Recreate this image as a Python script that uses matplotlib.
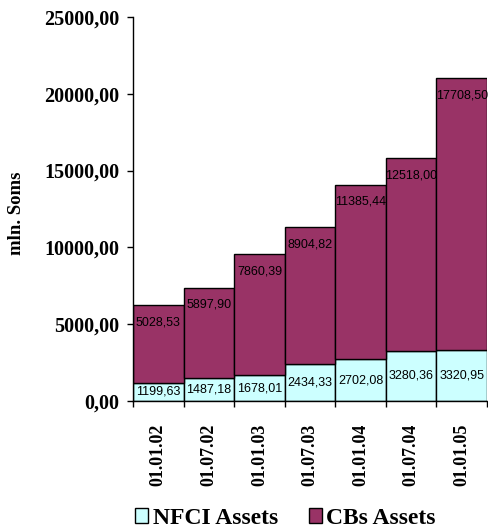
import numpy as np
import matplotlib.pyplot as plt

# data
dates = ["01.01.02", "01.07.02", "01.01.03", "01.07.03", "01.01.04", "01.07.04", "01.01.05"]
nfci_assets = [1199.63, 1487.18, 1678.01, 2434.33, 2702.08, 3280.36, 3320.95]
cbs_assets = [5028.53, 5897.90, 7860.39, 8904.82, 11385.44, 12518.00, 17708.50]
y_ticks = [0, 5000, 10000, 15000, 20000, 25000]

serif = "Liberation Serif"
sans = "Liberation Sans"

fig = plt.figure(figsize=(4.88, 5.30), dpi=100)
ax = fig.add_axes([0.2725, 0.2434, 0.7255, 0.7246])

x = np.arange(len(dates))
nfci = np.array(nfci_assets)
cbs = np.array(cbs_assets)

ax.bar(x, nfci, width=1.0, color="#CCFFFF", edgecolor="black", linewidth=1, label="NFCI Assets")
ax.bar(x, cbs, width=1.0, bottom=nfci, color="#993366", edgecolor="black", linewidth=1, label="CBs Assets")

def fmt(v):
    return f"{v:.2f}".replace(".", ",")

# value labels: NFCI centred, CBs just inside the top
for i in range(len(x)):
    ax.text(x[i], nfci[i] / 2, fmt(nfci[i]), ha="center", va="center",
            fontsize=9, family=sans, color="black")
    ax.annotate(fmt(cbs[i]), xy=(x[i], nfci[i] + cbs[i]), xytext=(0, -12.5),
                textcoords="offset points", ha="center", va="center",
                fontsize=9, family=sans, color="black")

ax.set_xlim(-0.5, len(x) - 0.5)
ax.set_ylim(0, 25000)

ax.set_yticks(y_ticks)
ax.set_yticklabels([fmt(v) for v in y_ticks], fontsize=14.5, fontweight="bold", family=serif)
ax.tick_params(axis="y", direction="out", length=4, width=1, pad=6)

# category labels at bar centres, tick marks between bars
ax.set_xticks(x)
ax.set_xticklabels(dates, rotation=90, fontsize=13, fontweight="bold", family=serif)
ax.tick_params(axis="x", which="major", length=0, pad=16)
ax.set_xticks(np.arange(-0.5, len(x)), minor=True)
ax.tick_params(axis="x", which="minor", direction="out", length=4, width=1)

ax.set_ylabel("mln. Soms", fontsize=13.5, fontweight="bold", family=serif)
ax.yaxis.set_label_coords(-0.305, 0.49)

ax.spines["top"].set_visible(False)
ax.spines["right"].set_visible(False)
ax.spines["left"].set_linewidth(1)
ax.spines["bottom"].set_linewidth(1)

fig.legend(loc="center", bbox_to_anchor=(0.585, 0.022), ncol=2, frameon=False,
           prop={"family": serif, "weight": "bold", "size": 17},
           handlelength=0.55, handleheight=0.55, handletextpad=0.2, columnspacing=1.3)

plt.savefig("out.png", dpi=100)
